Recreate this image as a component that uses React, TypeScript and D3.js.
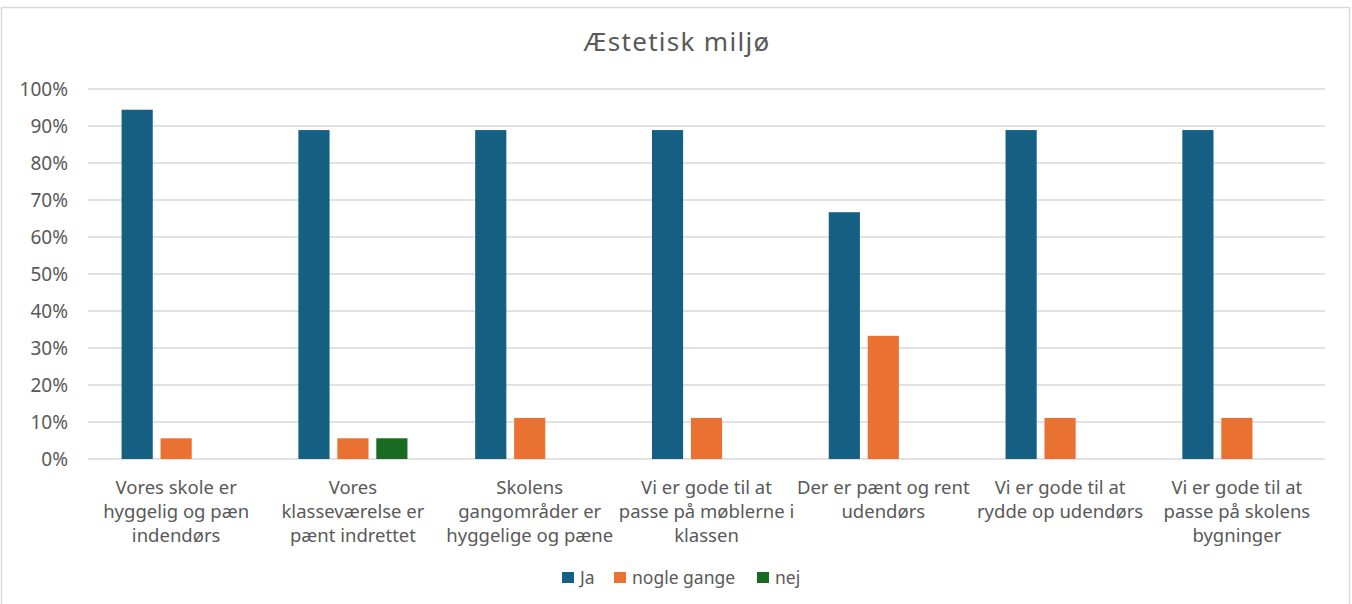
import React from "react";
import * as d3 from "d3";

const categories: string[][] = [
  ["Vores skole er", "hyggelig og pæn", "indendørs"],
  ["Vores", "klasseværelse er", "pænt indrettet"],
  ["Skolens", "gangområder er", "hyggelige og pæne"],
  ["Vi er gode til at", "passe på møblerne i", "klassen"],
  ["Der er pænt og rent", "udendørs"],
  ["Vi er gode til at", "rydde op udendørs"],
  ["Vi er gode til at", "passe på skolens", "bygninger"],
];
const seriesNames = ["Ja", "nogle gange", "nej"];
const seriesColors = ["#156082", "#E97132", "#196B24"];
const jaValues = [0.944, 0.889, 0.889, 0.889, 0.667, 0.889, 0.889];
const nogleGangeValues = [0.056, 0.056, 0.111, 0.111, 0.333, 0.111, 0.111];
const nejValues = [0, 0.056, 0, 0, 0, 0, 0];
const yTicks = [0, 0.1, 0.2, 0.3, 0.4, 0.5, 0.6, 0.7, 0.8, 0.9, 1.0];

const W = 1352;
const H = 604;
const plotLeft = 88;
const plotRight = 1325;
const plotTop = 89;
const plotBottom = 459;
const font = "'Noto Sans', 'Open Sans', sans-serif";

export default function App() {
  const series = [jaValues, nogleGangeValues, nejValues];
  const x0 = d3
    .scaleBand<number>()
    .domain(categories.map((_, i) => i))
    .range([plotLeft, plotRight])
    .paddingInner(0.383)
    .paddingOuter(0.19);
  const x1 = d3
    .scaleBand<number>()
    .domain([0, 1, 2])
    .range([0, x0.bandwidth()])
    .paddingInner(0.2);
  const y = d3.scaleLinear().domain([0, 1]).range([plotBottom, plotTop]);
  const fmt = d3.format(".0%");

  const legendItems = [
    { x: 562, label: seriesNames[0], color: seriesColors[0] },
    { x: 614, label: seriesNames[1], color: seriesColors[1] },
    { x: 757, label: seriesNames[2], color: seriesColors[2] },
  ];

  return (
    <svg
      width={W}
      height={H}
      style={{ position: "absolute", left: 0, top: 0, background: "#fff" }}
      fontFamily={font}
    >
      <rect x={1.5} y={7.5} width={1348} height={H} fill="#fff" stroke="#d9d9d9" strokeWidth={1.5} />
      <text x={677} y={51} textAnchor="middle" fontSize={26} letterSpacing={1.3} fill="#595959">
        Æstetisk miljø
      </text>
      {yTicks.map((t) => (
        <g key={t}>
          <line x1={plotLeft} x2={plotRight} y1={y(t)} y2={y(t)} stroke="#d9d9d9" strokeWidth={1.5} />
          <text x={68} y={y(t) + 7} textAnchor="end" fontSize={19} fill="#595959">
            {fmt(t)}
          </text>
        </g>
      ))}
      {categories.map((_, ci) =>
        series.map((vals, si) =>
          vals[ci] > 0 ? (
            <rect
              key={`${ci}-${si}`}
              x={(x0(ci) as number) + (x1(si) as number)}
              y={y(vals[ci])}
              width={x1.bandwidth()}
              height={plotBottom - y(vals[ci])}
              fill={seriesColors[si]}
            />
          ) : null
        )
      )}
      {categories.map((lines, ci) => (
        <text
          key={ci}
          x={(x0(ci) as number) + x0.bandwidth() / 2}
          textAnchor="middle"
          fontSize={18.5}
          fill="#595959"
        >
          {lines.map((l, li) => (
            <tspan key={li} x={(x0(ci) as number) + x0.bandwidth() / 2} y={494 + li * 24}>
              {l}
            </tspan>
          ))}
        </text>
      ))}
      {legendItems.map((it) => (
        <g key={it.label}>
          <rect x={it.x} y={572} width={12} height={11} fill={it.color} />
          <text x={it.x + 18} y={584} fontSize={17.5} fill="#595959">
            {it.label}
          </text>
        </g>
      ))}
    </svg>
  );
}
